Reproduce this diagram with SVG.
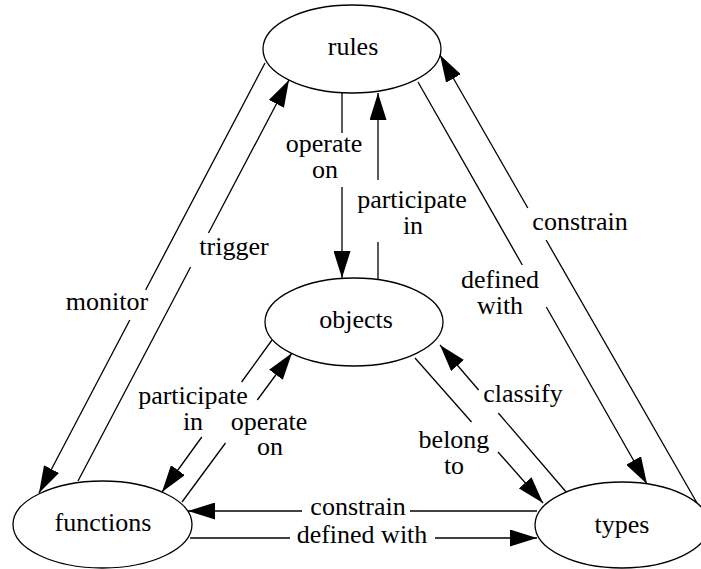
<svg xmlns="http://www.w3.org/2000/svg" width="701" height="569" viewBox="0 0 701 569">
  <style>
    .node ellipse { fill: #ffffff; stroke: #000000; stroke-width: 1.3; }
    text { font-family: 'Liberation Serif', 'Times New Roman', Times, 'DejaVu Serif', serif; font-size: 26px; fill: #000000; text-anchor: middle; }
    .edge line { stroke: #000000; stroke-width: 1.3; fill: none; }
    .edge line.head { marker-end: url(#arrow); }
  </style>
  <defs>
    <marker id="arrow" viewBox="0 0 27 17" refX="27" refY="8.5" markerWidth="27" markerHeight="17" markerUnits="userSpaceOnUse" orient="auto">
      <path d="M0,0 L27,8.5 L0,17 Z" fill="#000000"/>
    </marker>
  </defs>
  <rect width="701" height="569" fill="#ffffff"/>

  <!-- connectors: each edge is split around its label; the last segment carries the arrowhead -->
  <g id="edges" class="edge" font-family="Liberation Serif, serif">
    <!-- rules -> functions : monitor -->
    <line x1="265" y1="63" x2="145.6" y2="290"/>
    <line class="head" x1="129.8" y1="320" x2="39" y2="493"/>
    <text x="107" y="310">monitor</text>

    <!-- functions -> rules : trigger -->
    <line x1="78" y1="481" x2="190.6" y2="267"/>
    <line class="head" x1="208.5" y1="233" x2="289" y2="80"/>
    <text x="234" y="255">trigger</text>

    <!-- rules -> objects : operate on -->
    <line x1="342" y1="93" x2="342" y2="133"/>
    <line class="head" x1="342" y1="187" x2="342" y2="278"/>
    <text x="324" y="152">operate</text>
    <text x="325" y="178">on</text>

    <!-- objects -> rules : participate in -->
    <line x1="378" y1="279" x2="378" y2="242"/>
    <line class="head" x1="378" y1="180" x2="378" y2="93"/>
    <text x="412" y="208">participate</text>
    <text x="413" y="234">in</text>

    <!-- rules -> types : defined with -->
    <line x1="418" y1="82" x2="522.3" y2="265"/>
    <line class="head" x1="546.3" y1="307" x2="647" y2="484"/>
    <text x="500" y="288">defined</text>
    <text x="500" y="314">with</text>

    <!-- types -> rules : constrain -->
    <line x1="697" y1="503" x2="546.1" y2="240"/>
    <line class="head" x1="527.8" y1="208" x2="440" y2="55"/>
    <text x="580" y="230">constrain</text>

    <!-- objects -> functions : participate in -->
    <line x1="272" y1="340" x2="241.6" y2="382"/>
    <line class="head" x1="201.8" y1="437" x2="162" y2="492"/>
    <text x="193" y="404">participate</text>
    <text x="193" y="430">in</text>

    <!-- functions -> objects : operate on -->
    <line x1="182" y1="502" x2="225.5" y2="443"/>
    <line class="head" x1="257.3" y1="400" x2="292" y2="353"/>
    <text x="269" y="430">operate</text>
    <text x="270" y="455">on</text>

    <!-- objects -> types : belong to -->
    <line x1="415" y1="358" x2="471.5" y2="422"/>
    <line class="head" x1="498" y1="452" x2="543" y2="503"/>
    <text x="454" y="448">belong</text>
    <text x="454" y="474">to</text>

    <!-- types -> objects : classify -->
    <line x1="567" y1="493" x2="498.3" y2="413"/>
    <line class="head" x1="478.6" y1="390" x2="440" y2="345"/>
    <text x="523" y="402">classify</text>

    <!-- types -> functions : constrain -->
    <line x1="537" y1="511" x2="410" y2="511"/>
    <line class="head" x1="302" y1="511" x2="188" y2="511"/>
    <text x="358" y="515">constrain</text>

    <!-- functions -> types : defined with -->
    <line x1="190" y1="538" x2="290" y2="538"/>
    <line class="head" x1="435" y1="538" x2="537" y2="538"/>
    <text x="362" y="543">defined with</text>
  </g>

  <!-- nodes -->
  <g id="rules" class="node">
    <ellipse cx="352" cy="49" rx="89" ry="44"/>
    <text x="353" y="55">rules</text>
  </g>
  <g id="objects" class="node">
    <ellipse cx="354" cy="322" rx="89" ry="44"/>
    <text x="356" y="328">objects</text>
  </g>
  <g id="functions" class="node">
    <ellipse cx="102.5" cy="524.5" rx="89.5" ry="43.5"/>
    <text x="103" y="531">functions</text>
  </g>
  <g id="types" class="node">
    <ellipse cx="622" cy="525" rx="87" ry="43"/>
    <text x="622" y="533">types</text>
  </g>
</svg>
